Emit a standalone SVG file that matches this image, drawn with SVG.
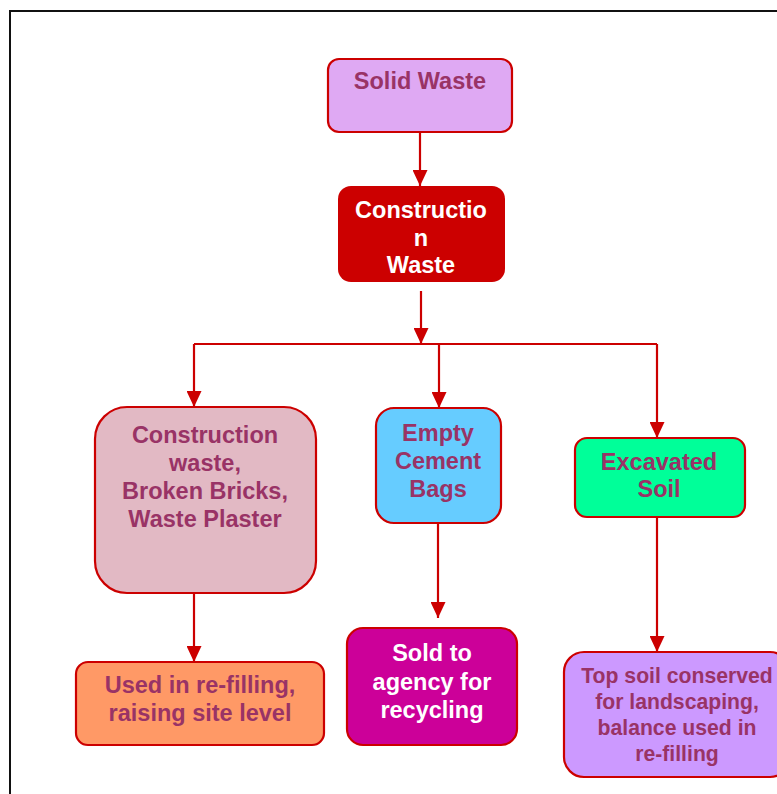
<svg xmlns="http://www.w3.org/2000/svg" width="777" height="794" viewBox="0 0 777 794">
<defs>
<marker id="ah" markerUnits="userSpaceOnUse" markerWidth="16" markerHeight="15" refX="16" refY="7.5" orient="auto">
<path d="M0,0 L16,7.5 L0,15 z" fill="#CC0000"/>
</marker>
<style>
.box{stroke:#CC0000;stroke-width:2.2}
.t{font-family:"Liberation Sans",Arial,sans-serif;font-weight:bold;font-size:23.5px;fill:#993366;text-anchor:middle}
.w{fill:#FFFFFF}
.c{fill:none;stroke:#CC0000;stroke-width:2.2}
.a{marker-end:url(#ah)}
</style>
</defs>
<rect x="0" y="0" width="777" height="794" fill="#FFFFFF"/>
<path d="M10,794 V11 H777" fill="none" stroke="#111111" stroke-width="2"/>
<g id="connectors">
<line class="c a" x1="420" y1="132" x2="420" y2="186"/>
<line class="c a" x1="421" y1="291" x2="421" y2="344"/>
<polyline class="c" points="194,344 657,344"/>
<line class="c a" x1="194" y1="344" x2="194" y2="407"/>
<line class="c a" x1="439" y1="344" x2="439" y2="408"/>
<line class="c a" x1="657" y1="344" x2="657" y2="438"/>
<line class="c a" x1="194" y1="593" x2="194" y2="662"/>
<line class="c a" x1="438" y1="523" x2="438" y2="618"/>
<line class="c a" x1="657" y1="517" x2="657" y2="652"/>
</g>
<g id="solid-waste">
<rect class="box" x="328" y="59" width="184" height="73" rx="11" fill="#DFA9F3"/>
<text class="t" x="420" y="89">Solid Waste</text>
</g>
<g id="construction-waste">
<rect x="338" y="186" width="167" height="96" rx="13" fill="#CC0000"/>
<text class="t w" x="421" y="218">Constructio</text>
<text class="t w" x="421" y="246">n</text>
<text class="t w" x="421" y="273">Waste</text>
</g>
<g id="bricks">
<rect class="box" x="95" y="407" width="221" height="186" rx="32" fill="#E2B9C4"/>
<text class="t" x="205" y="443">Construction</text>
<text class="t" x="205" y="471">waste,</text>
<text class="t" x="205" y="499">Broken Bricks,</text>
<text class="t" x="205" y="527">Waste Plaster</text>
</g>
<g id="cement-bags">
<rect class="box" x="376" y="408" width="125" height="115" rx="18" fill="#66CCFF"/>
<text class="t" x="438" y="441">Empty</text>
<text class="t" x="438" y="469">Cement</text>
<text class="t" x="438" y="497">Bags</text>
</g>
<g id="excavated-soil">
<rect class="box" x="575" y="438" width="170" height="79" rx="12" fill="#00FF99"/>
<text class="t" x="659" y="470">Excavated</text>
<text class="t" x="659" y="497">Soil</text>
</g>
<g id="refilling">
<rect class="box" x="76" y="662" width="248" height="83" rx="12" fill="#FF9966"/>
<text class="t" x="200" y="693">Used in re-filling,</text>
<text class="t" x="200" y="721">raising site level</text>
</g>
<g id="recycling">
<rect class="box" x="347" y="628" width="170" height="117" rx="16" fill="#CC0099"/>
<text class="t w" x="432" y="661">Sold to</text>
<text class="t w" x="432" y="690">agency for</text>
<text class="t w" x="432" y="718">recycling</text>
</g>
<g id="top-soil">
<rect class="box" x="564" y="652" width="226" height="125" rx="20" fill="#CC99FF"/>
<text class="t" x="677" y="683" style="font-size:21.2px">Top soil conserved</text>
<text class="t" x="677" y="709" style="font-size:21.2px">for landscaping,</text>
<text class="t" x="677" y="735" style="font-size:21.2px">balance used in</text>
<text class="t" x="677" y="761" style="font-size:21.2px">re-filling</text>
</g>
</svg>
